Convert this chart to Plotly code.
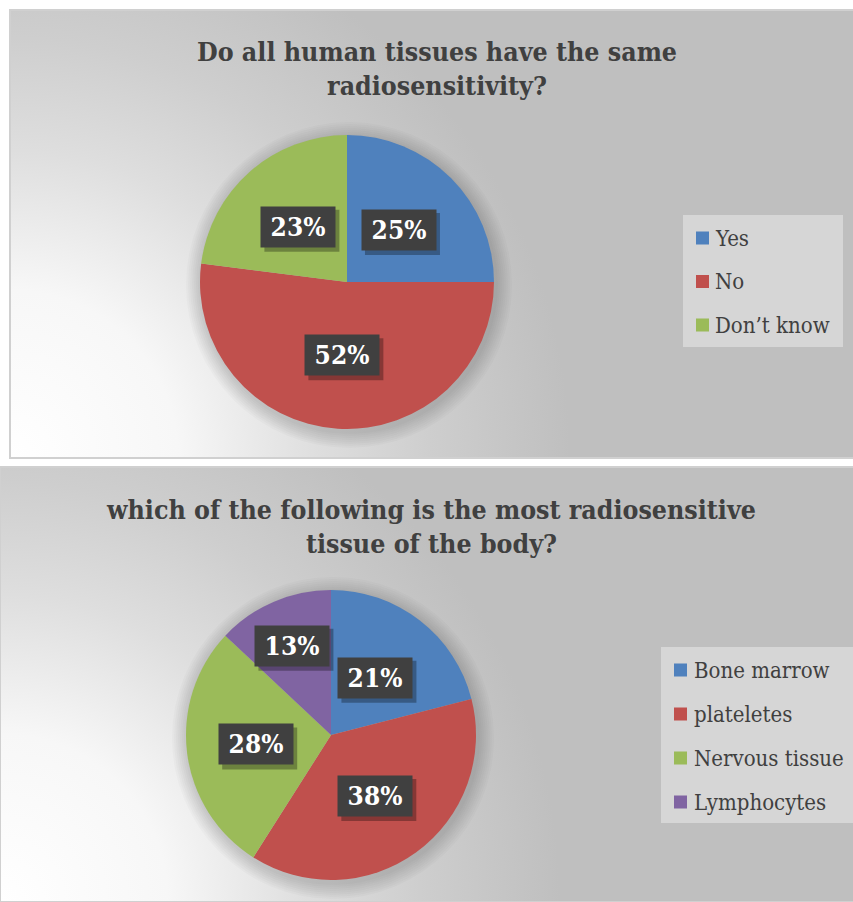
import math, base64
import plotly.graph_objects as go

W, H = 853, 902

# ---- data ----
title1 = "Do all human tissues have the same<br>radiosensitivity?"
labels1 = ["Yes", "No", "Don\u2019t know"]
values1 = [25, 52, 23]

title2 = "which of the following is the most radiosensitive<br>tissue of the body?"
labels2 = ["Bone marrow", "plateletes", "Nervous tissue", "Lymphocytes"]
values2 = [21, 38, 28, 13]

# ---- styles ----
colors = ["#4F81BD", "#C0504D", "#9BBB59", "#8064A2"]
TXT = "#404040"
SERIF = "DejaVu Serif Condensed, DejaVu Serif, serif"


def px(x):
    return x / W


def py(y):
    return 1 - y / H


def grad_svg(w, h, cx, cy, r):
    svg = (
        f'<svg xmlns="http://www.w3.org/2000/svg" width="{w}" height="{h}" viewBox="0 0 {w} {h}" preserveAspectRatio="none">'
        f'<defs><radialGradient id="g" gradientUnits="userSpaceOnUse" cx="{cx}" cy="{cy}" r="{r}">'
        '<stop offset="0" stop-color="#ffffff"/>'
        '<stop offset="0.3" stop-color="#f7f7f7"/>'
        '<stop offset="0.55" stop-color="#dedede"/>'
        '<stop offset="0.75" stop-color="#cecece"/>'
        '<stop offset="1" stop-color="#bfbfbf"/>'
        '</radialGradient></defs>'
        f'<rect width="{w}" height="{h}" fill="url(#g)"/></svg>'
    )
    return "data:image/svg+xml;base64," + base64.b64encode(svg.encode()).decode()


panels = [
    dict(x0=10, y0=10, x1=W, y1=458, cx=347, cy=282, r=147,
         title=title1, ty=68, labels=labels1, values=values1, lf=[0.5, 0.5, 0.5],
         leg=dict(x0=683, y0=215, x1=843, y1=347, y=238, dy=43.5, sx=696, tx=713)),
    dict(x0=0, y0=467, x1=W, y1=H, cx=331, cy=735, r=145,
         title=title2, ty=526, labels=labels2, values=values2, lf=[0.5, 0.52, 0.52, 0.67],
         leg=dict(x0=661, y0=647, x1=853, y1=823, y=670, dy=44, sx=674, tx=692)),
]

BW, BH = 74, 40  # label box size in px

fig = go.Figure()
shapes, annotations, images = [], [], []

for p in panels:
    pw, ph = p["x1"] - p["x0"], p["y1"] - p["y0"]
    images.append(dict(source=grad_svg(pw, ph, 0, ph, 560), xref="paper", yref="paper",
                       x=px(p["x0"]), y=py(p["y0"]), sizex=pw / W, sizey=ph / H,
                       xanchor="left", yanchor="top", sizing="stretch", layer="below"))
    shapes.append(dict(type="rect", xref="paper", yref="paper", x0=px(p["x0"]), x1=px(p["x1"] + 5),
                       y0=py(p["y1"]), y1=py(p["y0"]), line=dict(color="#d0d0d0", width=2),
                       fillcolor="rgba(0,0,0,0)", layer="below"))
    cx, cy, r = p["cx"], p["cy"], p["r"]
    # soft shadow around pie
    for k in range(16, 0, -2):
        shapes.append(dict(type="circle", xref="paper", yref="paper",
                           x0=px(cx - r - k + 2), x1=px(cx + r + k + 2),
                           y0=py(cy + r + k + 3), y1=py(cy - r - k + 3),
                           line=dict(width=0), fillcolor="rgba(0,0,0,0.018)", layer="below"))
    fig.add_trace(go.Pie(
        labels=p["labels"], values=p["values"], sort=False, direction="clockwise", rotation=0,
        marker=dict(colors=colors[:len(p["values"])], line=dict(width=0)),
        textinfo="none", hoverinfo="label+percent", showlegend=False,
        domain=dict(x=[px(cx - r), px(cx + r)], y=[py(cy + r), py(cy - r)]),
    ))
    # title
    annotations.append(dict(text=f"<b>{p['title']}</b>", xref="paper", yref="paper",
                            x=px((p["x0"] + p["x1"]) / 2 + 5), y=py(p["ty"]), showarrow=False,
                            xanchor="center", yanchor="middle",
                            font=dict(family=SERIF, size=26.5, color=TXT), align="center"))
    # data labels
    tot = sum(p["values"])
    cum = 0
    for v, f in zip(p["values"], p["lf"]):
        th = 2 * math.pi * (cum + v / 2) / tot
        cum += v
        lx = cx + math.sin(th) * r * f
        ly = cy - math.cos(th) * r * f
        # drop shadow of the label box
        shapes.append(dict(type="rect", xref="paper", yref="paper",
                           x0=px(lx - BW / 2 + 3), x1=px(lx + BW / 2 + 4),
                           y0=py(ly + BH / 2 + 5), y1=py(ly - BH / 2 + 3),
                           line=dict(width=0), fillcolor="rgba(0,0,0,0.3)"))
        annotations.append(dict(text=f"<b>{round(100 * v / tot)}%</b>", xref="paper", yref="paper",
                                x=px(lx), y=py(ly), xanchor="center", yanchor="middle",
                                showarrow=False, width=BW - 10, height=BH - 10, borderpad=5,
                                align="center", valign="middle", bgcolor="#404040",
                                font=dict(family=SERIF, size=26, color="white")))
    # legend
    L = p["leg"]
    shapes.append(dict(type="rect", xref="paper", yref="paper", x0=px(L["x0"]), x1=px(L["x1"]),
                       y0=py(L["y1"]), y1=py(L["y0"]), line=dict(width=0), fillcolor="#d6d6d6"))
    for i, lab in enumerate(p["labels"]):
        yy = L["y"] + i * L["dy"]
        shapes.append(dict(type="rect", xref="paper", yref="paper", x0=px(L["sx"]), x1=px(L["sx"] + 13),
                           y0=py(yy + 6.5), y1=py(yy - 6.5), line=dict(width=0), fillcolor=colors[i]))
        annotations.append(dict(text=lab, xref="paper", yref="paper", x=px(L["tx"]), y=py(yy),
                                xanchor="left", yanchor="middle", showarrow=False,
                                font=dict(family=SERIF, size=22, color=TXT)))

fig.update_layout(width=W, height=H, margin=dict(l=0, r=0, t=0, b=0),
                  paper_bgcolor="white", plot_bgcolor="white",
                  shapes=shapes, annotations=annotations, images=images)
fig.write_html("out.html")
